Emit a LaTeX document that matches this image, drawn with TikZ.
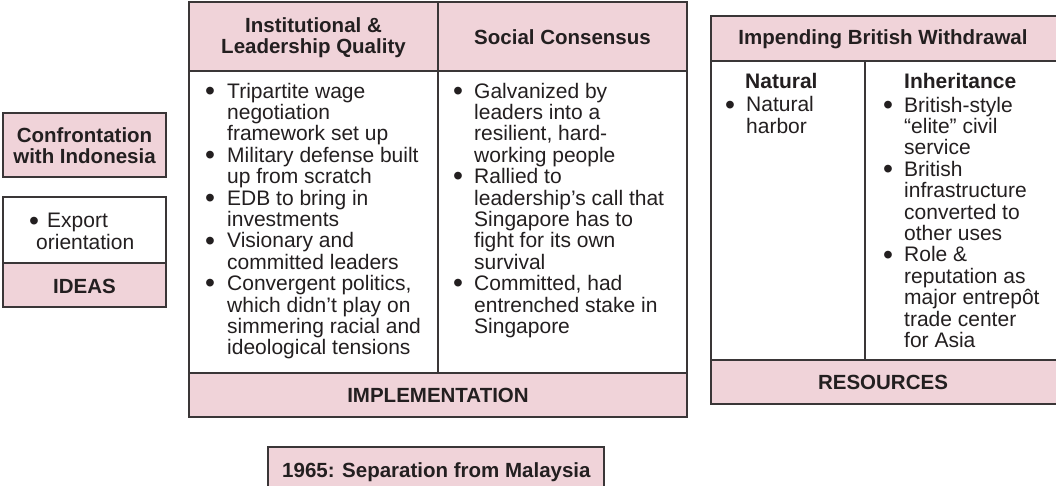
\documentclass[tikz,border=0pt]{standalone}
\usepackage{fontspec}
\setmainfont{Liberation Sans}
\definecolor{pinkfill}{RGB}{240,211,217}
\definecolor{edge}{RGB}{58,54,55}
\definecolor{ink}{RGB}{35,31,32}
\newcommand{\bigbul}{\hspace*{-1pt}\raisebox{-2.2pt}{\scalebox{1.35}{\textbullet}}}
\newcommand{\bt}{\makebox[21pt][l]{\bigbul}}
\newcommand{\ind}{\hspace*{21pt}}
\newcommand{\btr}{\makebox[20pt][l]{\bigbul}}
\newcommand{\indr}{\hspace*{20pt}}
\begin{document}
\begin{tikzpicture}[x=1pt,y=-1pt,
  panel/.style={draw=edge, line width=1.5pt, fill=white},
  band/.style={draw=edge, line width=1.5pt, fill=pinkfill},
  divider/.style={draw=edge, line width=1.2pt},
  head/.style={font=\fontsize{20.5}{20.5}\selectfont\bfseries, text=ink, inner sep=0pt, align=center, anchor=base},
  sub/.style={font=\fontsize{21}{21}\selectfont\bfseries, text=ink, inner sep=0pt, anchor=base west},
  body/.style={font=\fontsize{21}{21.4}\selectfont, text=ink, inner sep=0pt, align=left, anchor=base west},
]
\useasboundingbox (0,0) rectangle (1056,486);
\clip (0,0) rectangle (1056,486);

% ---------- left column ----------
\draw[band] (3,113) rectangle (166,177);
\node[head] (confr) at (84.5,163.5) {Confrontation\\with Indonesia};
\draw[panel] (3,197) rectangle (166,263);
\draw[band] (3,263) rectangle (166,307);
\node[body] (export) at (36,249.4) {\hspace*{-6pt}\makebox[17pt][l]{\bigbul}Export\\orientation};
\node[head] (ideas) at (84.5,293) {IDEAS};

% ---------- middle block ----------
\draw[band] (189,2) rectangle (687,71);
\draw[panel] (189,71) rectangle (687,373);
\draw[band] (189,373) rectangle (687,417);
\draw[divider] (438,2) -- (438,373);
\node[head] (inst) at (313.5,53.5) {Institutional \&\\Leadership Quality};
\node[head] (soc) at (562.5,45) {Social Consensus};
\node[body] (list1) at (206,354.8) {%
\bt Tripartite wage\\
\ind negotiation\\
\ind framework set up\\
\bt Military defense built\\
\ind up from scratch\\
\bt EDB to bring in\\
\ind investments\\
\bt Visionary and\\
\ind committed leaders\\
\bt Convergent politics,\\
\ind which didn’t play on\\
\ind simmering racial and\\
\ind ideological tensions};
\node[body] (list2) at (454,333.4) {%
\btr Galvanized by\\
\indr leaders into a\\
\indr resilient, hard-\\
\indr working people\\
\btr Rallied to\\
\indr leadership’s call that\\
\indr Singapore has to\\
\indr fight for its own\\
\indr survival\\
\btr Committed, had\\
\indr entrenched stake in\\
\indr Singapore};
\node[head] (impl) at (438,402) {IMPLEMENTATION};

% ---------- right block ----------
\draw[band] (711,16) rectangle (1064,61);
\draw[panel] (711,61) rectangle (1064,360);
\draw[band] (711,360) rectangle (1064,404);
\draw[divider] (865,61) -- (865,360);
\node[head] (brit) at (883,45) {Impending British Withdrawal};
\node[sub] (nat) at (745,89) {Natural};
\node[body] (natlist) at (726,133.4) {\btr Natural\\\indr harbor};
\node[sub] (inh) at (904,89) {Inheritance};
\node[body] (inhlist) at (884,347.4) {%
\btr British-style\\
\indr “elite” civil\\
\indr service\\
\btr British\\
\indr infrastructure\\
\indr converted to\\
\indr other uses\\
\btr Role \&\\
\indr reputation as\\
\indr major entrepôt\\
\indr trade center\\
\indr for Asia};
\node[head] (res) at (883,389) {RESOURCES};

% ---------- bottom ----------
\draw[band] (268,447) rectangle (604,492);
\node[head, anchor=base west] (sep) at (282,477) {1965: Separation from Malaysia};
\end{tikzpicture}
\end{document}
